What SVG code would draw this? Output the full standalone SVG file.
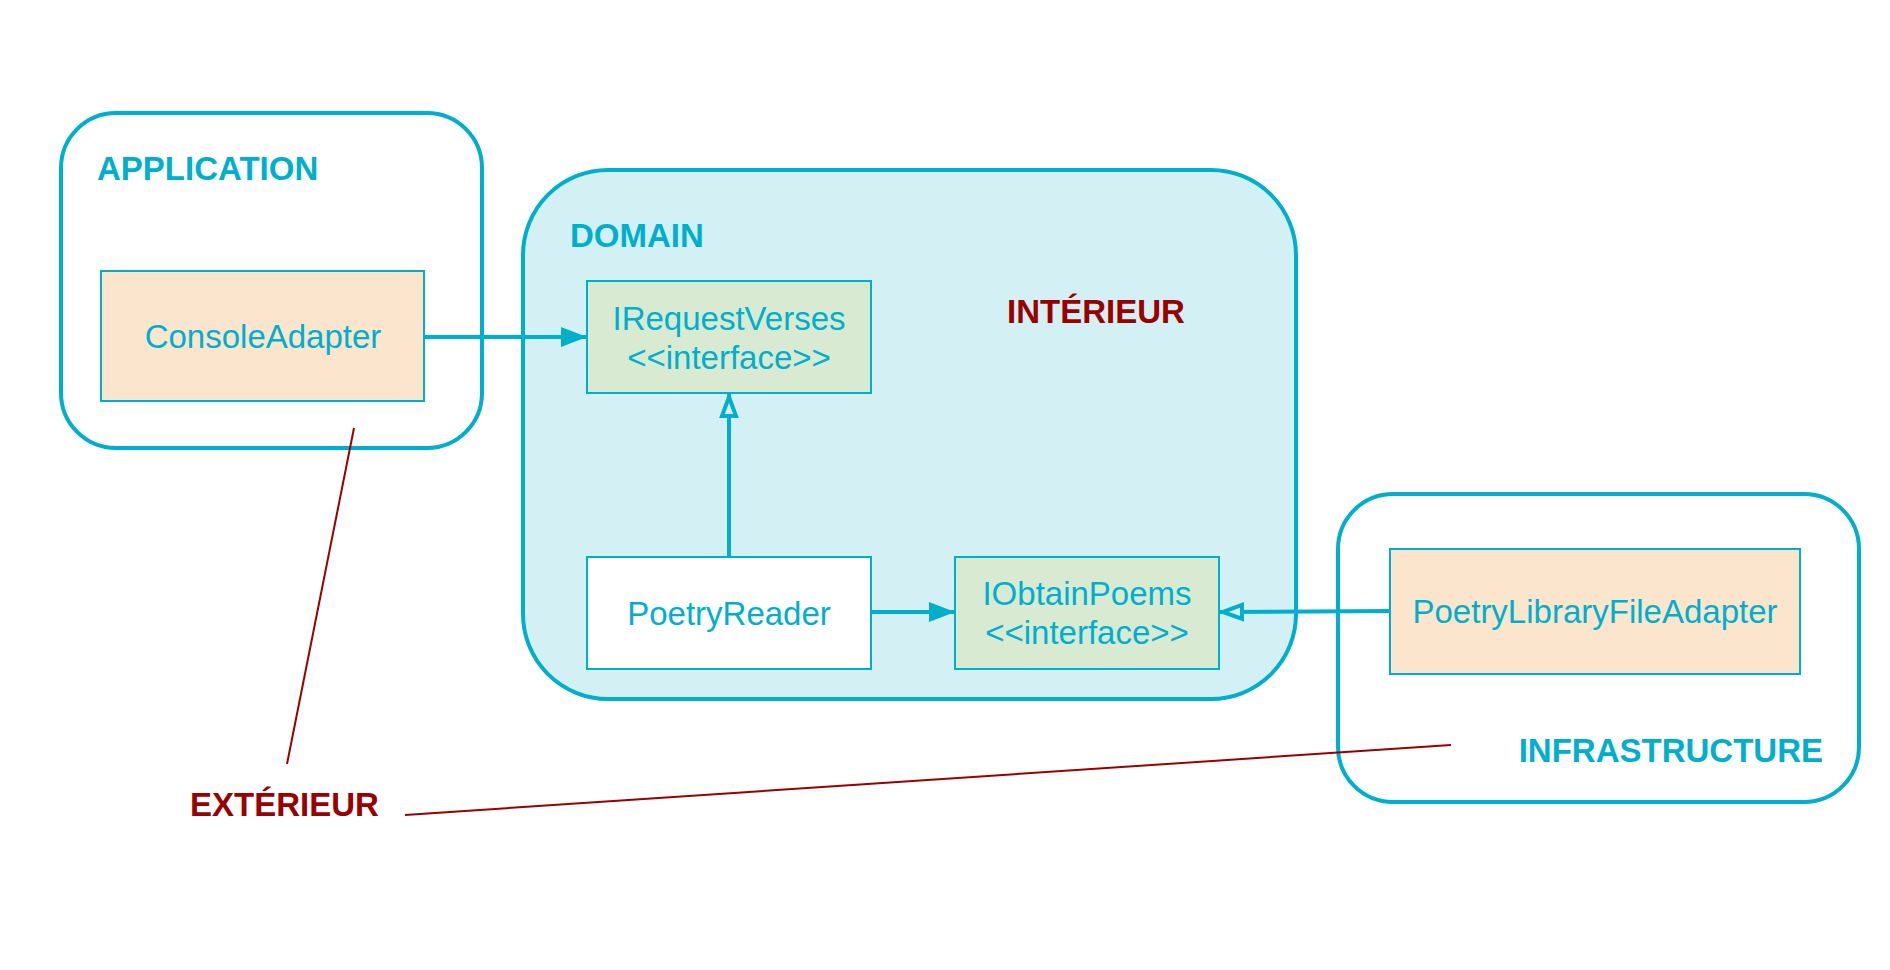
<svg xmlns="http://www.w3.org/2000/svg" width="1890" height="970" viewBox="0 0 1890 970">
<style>
.cont{fill:#ffffff;stroke:#00afcb;stroke-width:4}
.dom{fill:#d3f0f5;stroke:#00afcb;stroke-width:4}
.box{stroke:#00afcb;stroke-width:2}
.adapter{fill:#fbe5cd}
.iface{fill:#d9ead3}
.plain{fill:#ffffff}
.t{font-family:"Liberation Sans",Arial,sans-serif;font-size:33px;fill:#00afcb;text-anchor:middle}
.h{font-family:"Liberation Sans",Arial,sans-serif;font-size:33px;font-weight:bold;fill:#00afcb}
.r{font-family:"Liberation Sans",Arial,sans-serif;font-size:33px;font-weight:bold;fill:#990000}
.c{stroke:#00afcb;stroke-width:4;fill:none}
.red{stroke:#990000;stroke-width:2;fill:none}
</style>
<defs>
<marker id="fill" viewBox="0 0 26 20" refX="26" refY="10" markerWidth="26" markerHeight="20" markerUnits="userSpaceOnUse" orient="auto">
<path d="M0,0 L26,10 L0,20 Z" fill="#00afcb"/>
</marker>
<marker id="hollow" viewBox="0 0 26 20" refX="25" refY="10" markerWidth="26" markerHeight="20" markerUnits="userSpaceOnUse" orient="auto">
<path d="M3,3 L22,10 L3,17 Z" fill="#d3f0f5" stroke="#00afcb" stroke-width="4" stroke-linejoin="miter"/>
</marker>
</defs>
<rect width="1890" height="970" fill="#ffffff"/>

<g id="application">
<rect class="cont" x="61" y="113" width="421" height="335" rx="55" ry="55"/>
<text class="h" x="97" y="180">APPLICATION</text>
</g>
<g id="domain">
<rect class="dom" x="523" y="170" width="773" height="529" rx="85" ry="85"/>
<text class="h" x="570" y="247">DOMAIN</text>
<text class="r" x="1096" y="323" text-anchor="middle">INTÉRIEUR</text>
</g>
<g id="infrastructure">
<rect class="cont" x="1338" y="494" width="521" height="308" rx="55" ry="55"/>
<text class="h" x="1823" y="762" text-anchor="end">INFRASTRUCTURE</text>
</g>

<g id="connectors">
<line class="c" x1="424" y1="337" x2="587" y2="337" marker-end="url(#fill)"/>
<line class="c" x1="729" y1="557" x2="729" y2="394" marker-end="url(#hollow)"/>
<line class="c" x1="871" y1="612" x2="955" y2="612" marker-end="url(#fill)"/>
<line class="c" x1="1390" y1="611" x2="1220" y2="612" marker-end="url(#hollow)"/>
<line class="red" x1="354" y1="428" x2="287" y2="764"/>
<line class="red" x1="405" y1="815" x2="1451" y2="745"/>
</g>

<g id="ConsoleAdapter">
<rect class="box adapter" x="101" y="271" width="323" height="130"/>
<text class="t" x="263" y="348">ConsoleAdapter</text>
</g>
<g id="IRequestVerses">
<rect class="box iface" x="587" y="281" width="284" height="112"/>
<text class="t" x="729" y="330">IRequestVerses</text>
<text class="t" x="729" y="369">&lt;&lt;interface&gt;&gt;</text>
</g>
<g id="PoetryReader">
<rect class="box plain" x="587" y="557" width="284" height="112"/>
<text class="t" x="729" y="625">PoetryReader</text>
</g>
<g id="IObtainPoems">
<rect class="box iface" x="955" y="557" width="264" height="112"/>
<text class="t" x="1087" y="605">IObtainPoems</text>
<text class="t" x="1087" y="644">&lt;&lt;interface&gt;&gt;</text>
</g>
<g id="PoetryLibraryFileAdapter">
<rect class="box adapter" x="1390" y="549" width="410" height="125"/>
<text class="t" x="1595" y="623">PoetryLibraryFileAdapter</text>
</g>
<g id="exterieur">
<text class="r" x="190" y="816">EXTÉRIEUR</text>
</g>
</svg>
